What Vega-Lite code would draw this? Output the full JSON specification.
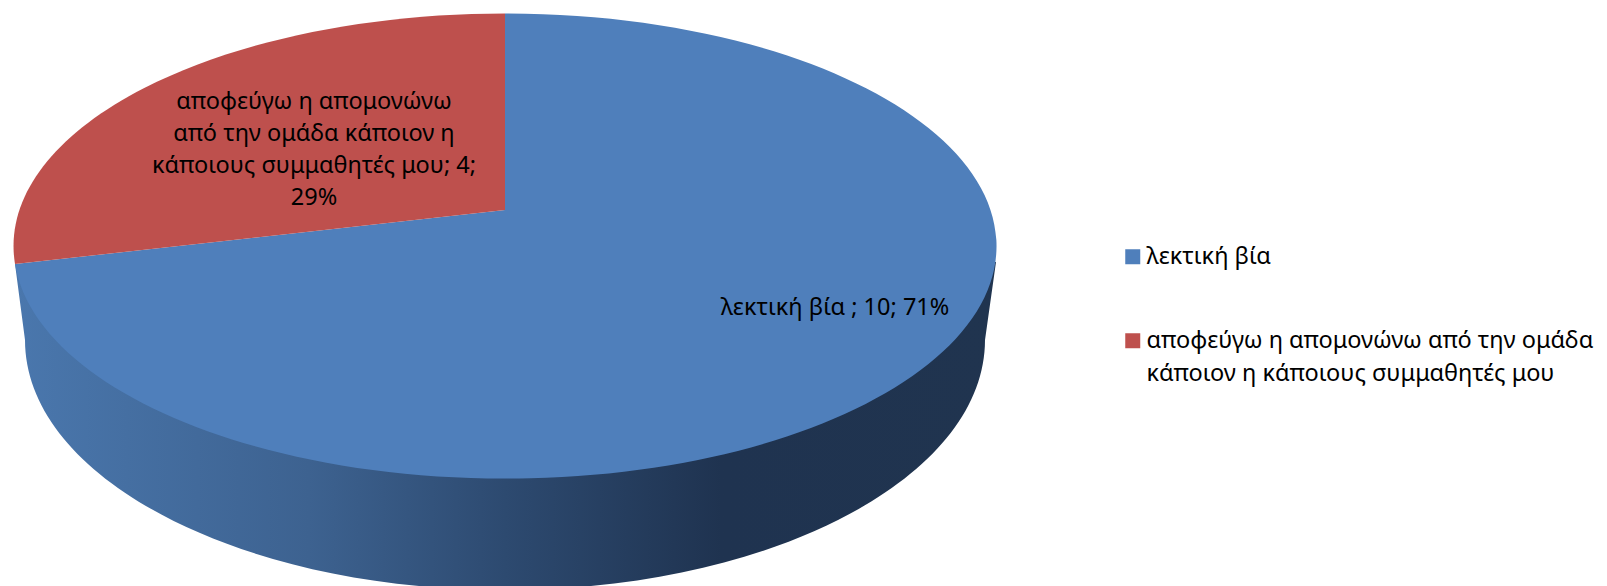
{
  "$schema": "https://vega.github.io/schema/vega-lite/v6.json",
  "width": 1607,
  "height": 586,
  "padding": 0,
  "autosize": {"type": "none"},
  "background": "white",
  "config": {"view": {"stroke": null}, "style": {"guide-label": {"lineHeight": 33}}},
  "data": {"values": [
    {"category": "λεκτική βία", "value": 10, "percent": 71, "label": "λεκτική βία ; 10; 71%"},
    {"category": "αποφεύγω η απομονώνω από την ομάδα κάποιον η κάποιους συμμαθητές μου", "value": 4, "percent": 29, "label": "αποφεύγω η απομονώνω\nαπό την ομάδα κάποιον η\nκάποιους συμμαθητές μου; 4;\n29%"}
  ]},
  "resolve": {"scale": {"x": "independent", "y": "independent"}},
  "layer": [
    {
      "transform": [{"filter": "datum.value == 10"}],
      "mark": {
        "type": "point",
        "filled": true,
        "opacity": 1,
        "size": 4,
        "strokeWidth": 0,
        "shape": "M-490,18 L-480,94 A480,250 0 0 0 480,94 L491,16 Z",
        "fill": {
          "gradient": "linear", "x1": 0, "y1": 0, "x2": 1, "y2": 0,
          "stops": [
            {"offset": 0, "color": "#4A77AD"},
            {"offset": 0.3, "color": "#3D6290"},
            {"offset": 0.5, "color": "#2D4A70"},
            {"offset": 0.72, "color": "#1F3350"},
            {"offset": 1, "color": "#20344F"}
          ]
        }
      },
      "encoding": {
        "x": {"field": "value", "type": "quantitative", "axis": null, "scale": {"domain": [4, 10], "range": [505, 505]}},
        "y": {"field": "value", "type": "quantitative", "axis": null, "scale": {"domain": [4, 10], "range": [246, 246]}}
      }
    },
    {
      "transform": [{"filter": "datum.value == 10"}],
      "mark": {"type": "point", "filled": true, "opacity": 1, "size": 4, "strokeWidth": 0, "fill": "#4F7FBB", "shape": "M0,-36 L0,-232.5 A491.5,232.5 0 1 1 -490,18 Z"},
      "encoding": {
        "x": {"field": "value", "type": "quantitative", "axis": null, "scale": {"domain": [4, 10], "range": [505, 505]}},
        "y": {"field": "value", "type": "quantitative", "axis": null, "scale": {"domain": [4, 10], "range": [246, 246]}}
      }
    },
    {
      "transform": [{"filter": "datum.value == 4"}],
      "mark": {"type": "point", "filled": true, "opacity": 1, "size": 4, "strokeWidth": 0, "fill": "#BE504D", "shape": "M0,-36 L-490,18 A491.5,232.5 0 0 1 0,-232.5 Z"},
      "encoding": {
        "x": {"field": "value", "type": "quantitative", "axis": null, "scale": {"domain": [4, 10], "range": [505, 505]}},
        "y": {"field": "value", "type": "quantitative", "axis": null, "scale": {"domain": [4, 10], "range": [246, 246]}}
      }
    },
    {
      "mark": {"type": "square", "filled": true, "opacity": 1, "size": 0, "strokeWidth": 0},
      "encoding": {
        "x": {"field": "value", "type": "quantitative", "axis": null, "scale": {"domain": [4, 10], "range": [505, 505]}},
        "y": {"field": "value", "type": "quantitative", "axis": null, "scale": {"domain": [4, 10], "range": [246, 246]}},
        "color": {
          "field": "category", "type": "nominal",
          "scale": {
            "domain": ["λεκτική βία", "αποφεύγω η απομονώνω από την ομάδα κάποιον η κάποιους συμμαθητές μου"],
            "range": ["#4F7FBB", "#BE504D"]
          },
          "legend": {
            "orient": "none",
            "legendX": 1121,
            "legendY": 245,
            "title": null,
            "symbolType": "square",
            "symbolSize": 225,
            "symbolStrokeWidth": 0,
            "labelFont": "Noto Sans",
            "labelFontSize": 23.5,
            "labelColor": "#000000",
            "labelLimit": 0,
            "labelOffset": 2,
            "rowPadding": 59,
            "labelExpr": "length(datum.label) > 20 ? ['\u2004αποφεύγω η απομονώνω από την ομάδα', 'κάποιον η κάποιους συμμαθητές μου'] : datum.label"
          }
        }
      }
    },
    {
      "mark": {"type": "text", "font": "Noto Sans", "fontSize": 23.5, "lineBreak": "\n", "lineHeight": 32, "align": "center", "baseline": "middle", "color": "#000000"},
      "encoding": {
        "text": {"field": "label", "type": "nominal"},
        "x": {"field": "value", "type": "quantitative", "axis": null, "scale": {"domain": [4, 10], "range": [314, 835]}},
        "y": {"field": "value", "type": "quantitative", "axis": null, "scale": {"domain": [4, 10], "range": [102, 308]}}
      }
    }
  ]
}
